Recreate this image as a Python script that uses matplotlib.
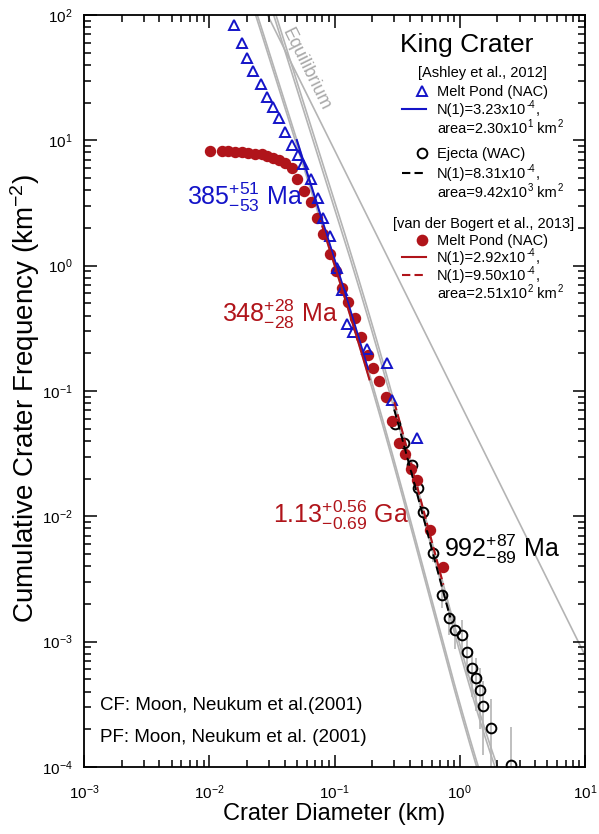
import numpy as np
import matplotlib
matplotlib.use("Agg")
import matplotlib.pyplot as plt
from matplotlib.ticker import LogLocator, LogFormatterSciNotation, NullFormatter

plt.rcParams["font.family"] = ["Liberation Sans", "DejaVu Sans"]
plt.rcParams["mathtext.fontset"] = "custom"
plt.rcParams["mathtext.rm"] = "Liberation Sans"
plt.rcParams["mathtext.it"] = "Liberation Sans:italic"
plt.rcParams["mathtext.bf"] = "Liberation Sans:bold"
plt.rcParams["mathtext.sf"] = "Liberation Sans"
plt.rcParams["mathtext.default"] = "regular"

BLUE = "#1414c8"
RED = "#b0141a"
GRAY = "#b4b4b4"

# ── data ─────────────────────────────────────────────────────────────

# Ashley et al. 2012, melt pond (NAC), cumulative
ash_D = [0.01576, 0.01826, 0.02001, 0.02235, 0.02589, 0.02891, 0.03228,
         0.03604, 0.04025, 0.04577, 0.05111, 0.05604, 0.06494, 0.07383,
         0.08094, 0.09207, 0.1047, 0.1148, 0.1258, 0.1405, 0.1818, 0.2626,
         0.2878, 0.4558]
ash_N = [83.2, 59.8, 45.4, 35.7, 28.1, 22.2, 18.4, 15.1, 11.6, 9.17, 7.63,
         6.47, 4.91, 3.46, 2.40, 1.72, 0.957, 0.639, 0.342, 0.295, 0.216,
         0.167, 0.0846, 0.0421]

# Ashley et al. 2012, ejecta (WAC)
ej_area = 9.42e3
ej_D = [0.3041, 0.3588, 0.4158, 0.4642, 0.5088, 0.6115, 0.7218, 0.8209,
        0.9165, 1.042, 1.143, 1.252, 1.348, 1.451, 1.533, 1.776, 2.566]
ej_N = [0.0544, 0.0384, 0.0256, 0.0168, 0.0108, 0.00509, 0.00235, 0.00154,
        0.00124, 0.00113, 0.000825, 0.000614, 0.000511, 0.000410, 0.000306,
        0.000204, 0.000104]

# van der Bogert et al. 2013, melt pond (NAC)
vdb_D = [0.01014, 0.01264, 0.01411, 0.01605, 0.01826, 0.02039, 0.02318,
         0.02638, 0.02891, 0.03228, 0.03604, 0.04025, 0.04577, 0.05018,
         0.05708, 0.06494, 0.07249, 0.08094, 0.09207, 0.1028, 0.1148, 0.1282,
         0.1458, 0.1628, 0.1851, 0.2030, 0.2266, 0.2578, 0.2878, 0.3273,
         0.3655, 0.4081, 0.4558, 0.5788, 0.7355]
vdb_N = [8.21, 8.21, 8.21, 8.07, 8.07, 7.92, 7.77, 7.77, 7.49, 7.22, 6.96,
         6.59, 6.01, 4.91, 3.94, 3.22, 2.40, 1.79, 1.24, 0.906, 0.663, 0.512,
         0.382, 0.269, 0.193, 0.152, 0.120, 0.0894, 0.0575, 0.0384, 0.0314,
         0.0238, 0.0195, 0.00776, 0.00393]

# fitted N(1) values and the diameter range of each fit
fit_n1 = [3.23e-4, 8.31e-4, 2.92e-4, 9.50e-4]
fit_dmin = [0.050, 0.30, 0.080, 0.30]
fit_dmax = [0.185, 0.84, 0.19, 0.74]
fit_color = [BLUE, "black", RED, RED]
fit_style = ["-", "--", "-", "--"]

# Neukum et al. (2001) lunar production function, a1..a11
pf_coef = [-3.557528, 0.781027, 1.021521, -0.156012, -0.444058, 0.019977,
           0.086850, -0.005874, -0.006809, 8.25e-4, 5.54e-5]

# equilibrium line end points
eq_D = [0.0292, 10.4]
eq_N = [100.0, 7.2e-4]


def pf(d, n1):
    ld = np.log10(d)
    s = np.log10(n1)
    for k, a in enumerate(pf_coef, start=1):
        s = s + a * ld ** k
    return 10 ** s


# ── figure ───────────────────────────────────────────────────────────

W, H = 599, 834
fig = plt.figure(figsize=(W / 100, H / 100), dpi=100)
L, R, T, B = 84, 585, 15, 767
ax = fig.add_axes([L / W, (H - B) / H, (R - L) / W, (B - T) / H])
ax.set_xscale("log")
ax.set_yscale("log")
ax.set_xlim(1e-3, 10)
ax.set_ylim(1e-4, 100)


def ap(px, py):
    # pixel position in the picture -> axes fraction
    return (px - L) / (R - L), (B - py) / (B - T)


# isochrons + equilibrium
d_grid = np.logspace(-2, 1, 500)
for n1 in fit_n1:
    ax.plot(d_grid, pf(d_grid, n1), color=GRAY, lw=1.2, zorder=1)
ax.plot(eq_D, eq_N, color=GRAY, lw=1.2, zorder=1)

# error bars on ejecta counts
ej_D_a = np.array(ej_D)
ej_N_a = np.array(ej_N)
ej_err = np.sqrt(ej_N_a * ej_area) / ej_area
ax.errorbar(ej_D_a, ej_N_a, yerr=[np.minimum(ej_err, ej_N_a * 0.999), ej_err],
            fmt="none", ecolor=GRAY, elinewidth=1.2, zorder=2)

ax.plot(ej_D, ej_N, ls="none", marker="o", ms=7, mfc="none", mec="black",
        mew=1.4, zorder=3)
ax.plot(vdb_D, vdb_N, ls="none", marker="o", ms=7.2, mfc=RED, mec=RED,
        zorder=3)
ax.plot(ash_D, ash_N, ls="none", marker="^", ms=7, mfc="none", mec=BLUE,
        mew=1.4, zorder=3)

# fitted isochron segments
for n1, d0, d1, c, s in zip(fit_n1, fit_dmin, fit_dmax, fit_color, fit_style):
    dd = np.logspace(np.log10(d0), np.log10(d1), 60)
    ax.plot(dd, pf(dd, n1), color=c, ls=s, lw=1.5, zorder=4,
            dashes=(4, 2) if s == "--" else (None, None))

# ── axes styling ─────────────────────────────────────────────────────

for sp in ax.spines.values():
    sp.set_linewidth(1.3)
ax.tick_params(which="both", direction="in", top=True, right=True,
               labelsize=11, width=1.1)
ax.tick_params(which="major", length=9, pad=12)
ax.tick_params(which="minor", length=5)
ax.tick_params(axis="y", which="major", pad=8)
for axis in (ax.xaxis, ax.yaxis):
    axis.set_major_locator(LogLocator(base=10, numticks=10))
    axis.set_minor_locator(LogLocator(base=10, subs=np.arange(2, 10), numticks=10))
    axis.set_major_formatter(LogFormatterSciNotation())
    axis.set_minor_formatter(NullFormatter())

ax.set_xlabel("Crater Diameter (km)", fontsize=17, va="center")
ax.xaxis.set_label_coords(0.5, ap(0, 814)[1])
ax.set_ylabel("Cumulative Crater Frequency (km$^{-2}$)", fontsize=20,
              va="center")
ax.yaxis.set_label_coords(ap(25, 0)[0], ap(0, 398)[1])

# ── annotations ──────────────────────────────────────────────────────

ax.text(0.0590, 37.0, "Equilibrium", color="#a8a8a8", fontsize=13,
        rotation=-63.7, rotation_mode="anchor", ha="center", va="center",
        zorder=2)

ax.text(*ap(187, 205), "385$^{+51}_{-53}$ Ma", color=BLUE, fontsize=18,
        transform=ax.transAxes, va="baseline")
ax.text(*ap(222, 322), "348$^{+28}_{-28}$ Ma", color=RED, fontsize=18,
        transform=ax.transAxes, va="baseline")
ax.text(*ap(273, 523), "1.13$^{+0.56}_{-0.69}$ Ga", color=RED, fontsize=18,
        transform=ax.transAxes, va="baseline")
ax.text(*ap(444, 557), "992$^{+87}_{-89}$ Ma", color="black", fontsize=18,
        transform=ax.transAxes, va="baseline")

ax.text(*ap(100, 705), "CF: Moon, Neukum et al.(2001)", fontsize=13.5,
        transform=ax.transAxes, va="center")
ax.text(*ap(100, 738), "PF: Moon, Neukum et al. (2001)", fontsize=13.5,
        transform=ax.transAxes, va="center")

# ── hand-made legend ─────────────────────────────────────────────────

FS = 10.5
SUP = 7


def seg_text(px, py, parts):
    # parts: list of (string, is_superscript); all on one baseline
    first = ax.text(*ap(px, py), parts[0][0], fontsize=FS, va="bottom",
                    transform=ax.transAxes)
    prev = first
    for s, sup in parts[1:]:
        prev = ax.annotate(s, xy=(1, 0), xycoords=(prev, first),
                           xytext=(0.4, 5.2) if sup else (0, 0),
                           textcoords="offset points",
                           fontsize=SUP if sup else FS, va="bottom")


ax.text(*ap(467, 45), "King Crater", fontsize=19, ha="center", va="center",
        transform=ax.transAxes)
ax.text(*ap(482, 77), "[Ashley et al., 2012]", fontsize=FS, ha="center",
        va="baseline", transform=ax.transAxes)
ax.text(*ap(484, 228), "[van der Bogert et al., 2013]", fontsize=FS,
        ha="center", va="baseline", transform=ax.transAxes)

rows = [
    (91, "marker", ("^", BLUE, "none"), [("Melt Pond (NAC)", False)]),
    (109, "line", (BLUE, "-"),
     [("N(1)=3.23x10", False), ("-4", True), (",", False)]),
    (128, None, None,
     [("area=2.30x10", False), ("1", True), (" km", False), ("2", True)]),
    (153, "marker", ("o", "black", "none"), [("Ejecta (WAC)", False)]),
    (173, "line", ("black", "--"),
     [("N(1)=8.31x10", False), ("-4", True), (",", False)]),
    (192, None, None,
     [("area=9.42x10", False), ("3", True), (" km", False), ("2", True)]),
    (240, "marker", ("o", RED, RED), [("Melt Pond (NAC)", False)]),
    (257, "line", (RED, "-"),
     [("N(1)=2.92x10", False), ("-4", True), (",", False)]),
    (275, "line", (RED, "--"),
     [("N(1)=9.50x10", False), ("-4", True), (",", False)]),
    (293, None, None,
     [("area=2.51x10", False), ("2", True), (" km", False), ("2", True)]),
]
for py, kind, sty, parts in rows:
    if kind == "marker":
        m, ec, fc = sty
        ax.plot(*ap(422, py), marker=m, ms=7, mec=ec, mfc=fc, mew=1.4,
                transform=ax.transAxes, clip_on=False)
    elif kind == "line":
        c, s = sty
        x0, y0 = ap(402, py)
        x1, _ = ap(426, py)
        ax.plot([x0, x1], [y0, y0], color=c, lw=1.5,
                dashes=(4, 2) if s == "--" else (None, None),
                transform=ax.transAxes)
    seg_text(437, py + 8, parts)

fig.savefig("out.png", dpi=100)
